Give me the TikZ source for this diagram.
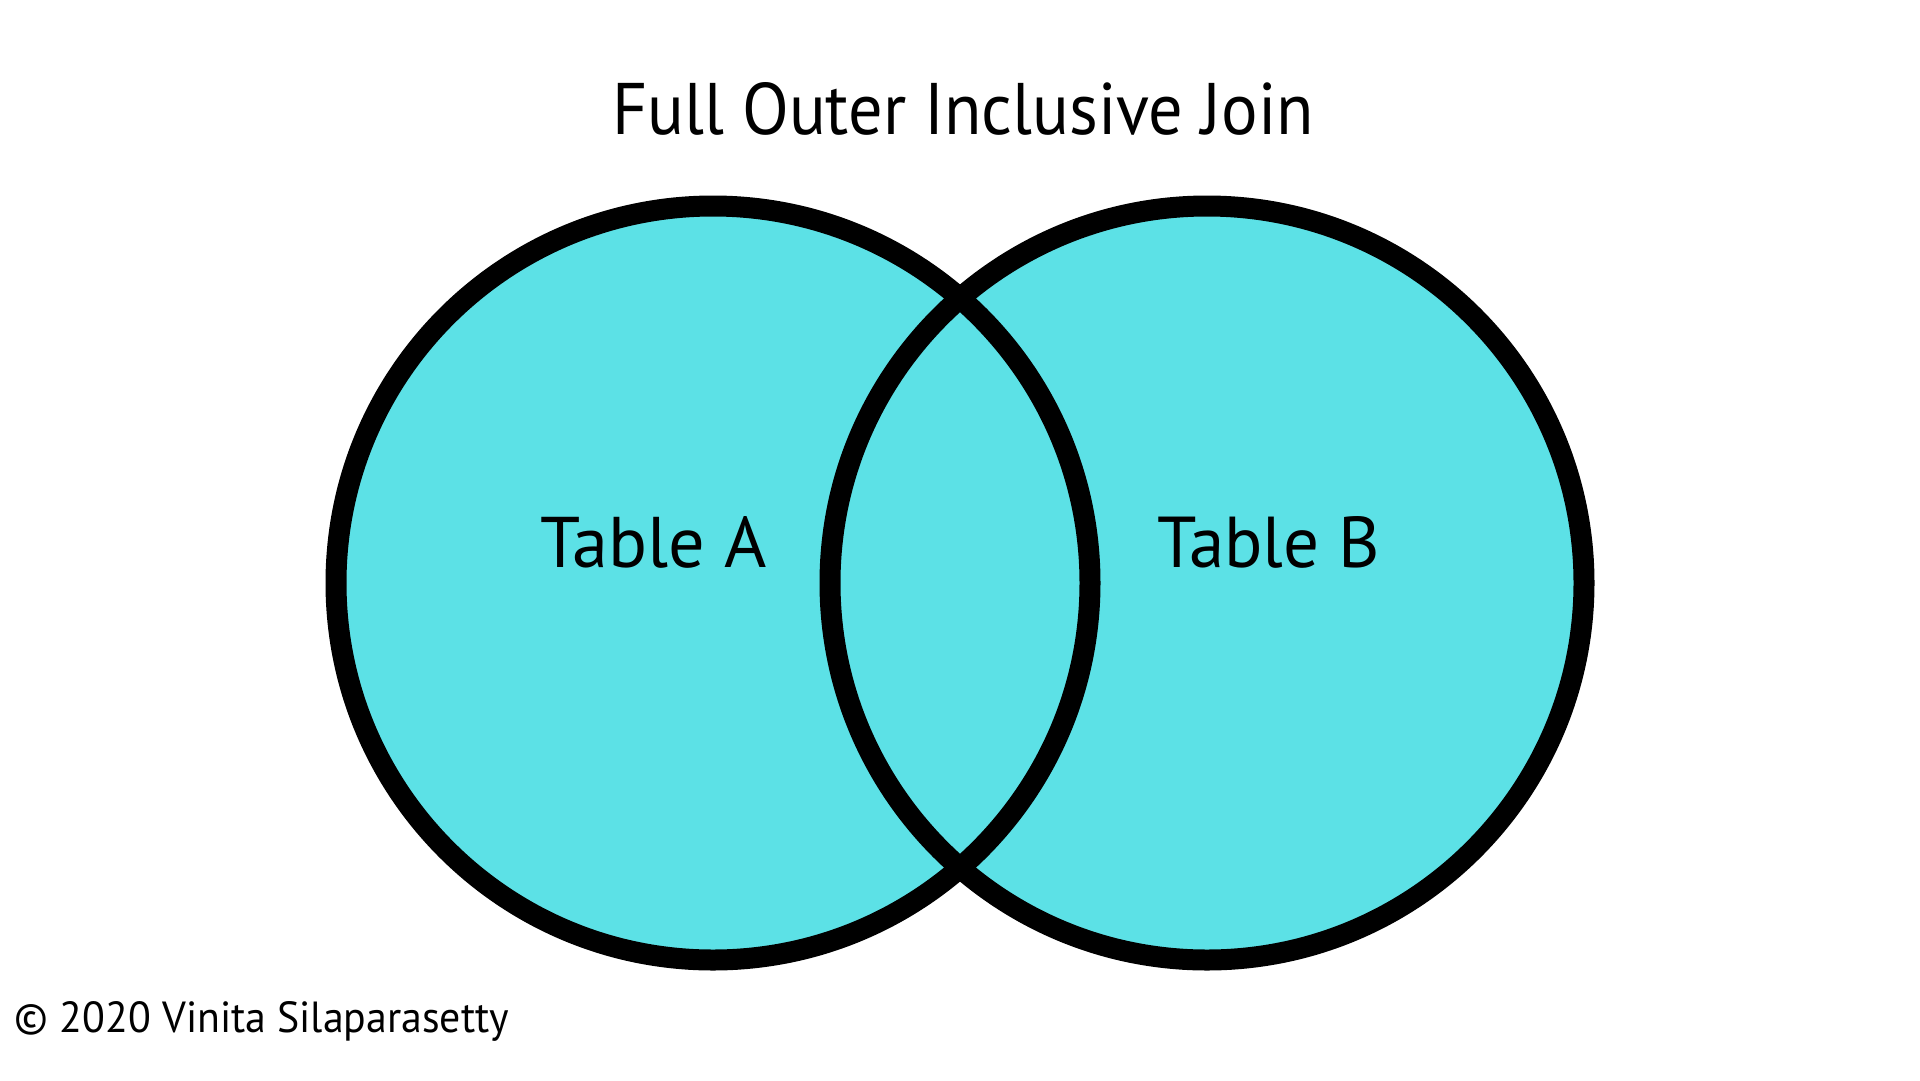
\documentclass[tikz,border=0pt]{standalone}
\usepackage{fontspec}
\setmainfont{PT Sans}
\usepackage{graphicx}
\definecolor{venn}{HTML}{5CE1E6}
\tikzset{
  setfill/.style={fill=venn},
  setline/.style={draw=black, line width=21pt},
  lbl/.style={anchor=base west, inner sep=0pt, outer sep=0pt, text=black}
}
\begin{document}
\begin{tikzpicture}[x=1pt,y=-1pt]
\useasboundingbox (0,0) rectangle (1920,1080);
\fill[white] (0,0) rectangle (1920,1080);
\coordinate (ca) at (713,583);
\coordinate (cb) at (1207,583);
\fill[setfill] (ca) circle (377pt);
\fill[setfill] (cb) circle (377pt);
\draw[setline] (ca) circle (377pt);
\draw[setline] (cb) circle (377pt);
\node[lbl] (title) at (612,134) {\resizebox{702pt}{52pt}{Full Outer Inclusive Join}};
\node[lbl] (ta) at (540,567) {\resizebox{227pt}{51pt}{Table A}};
\node[lbl] (tb) at (1157,567) {\resizebox{223pt}{51pt}{Table B}};
\node[lbl] (copy) at (15,1032) {\resizebox{494pt}{31pt}{\textcopyright\ 2020 Vinita Silaparasetty}};
\end{tikzpicture}
\end{document}
